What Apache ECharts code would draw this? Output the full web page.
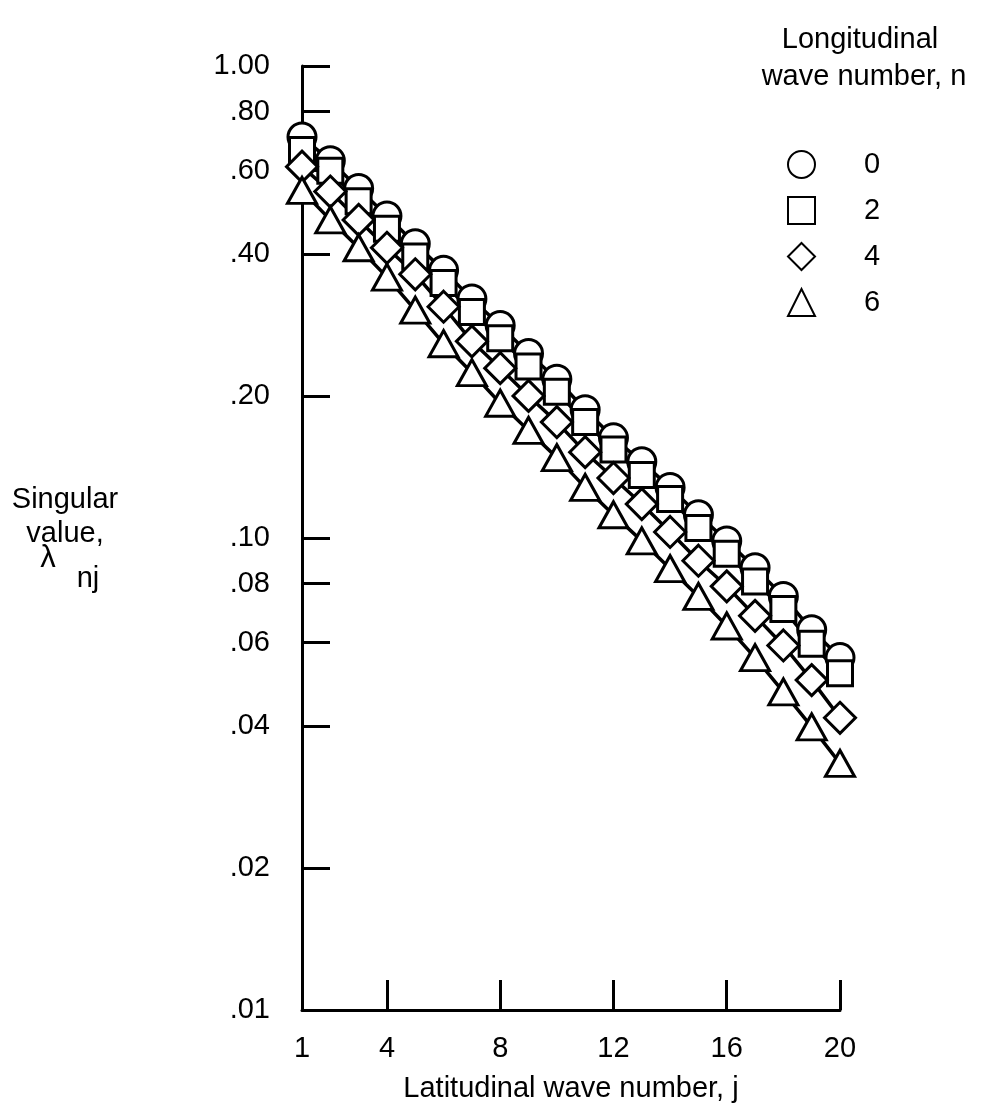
<!DOCTYPE html>
<html>
<head>
<meta charset="utf-8">
<script src="https://cdn.jsdelivr.net/npm/echarts@6/dist/echarts.min.js"></script>
<style>
html,body{margin:0;padding:0;background:#fff;}
#chart{width:1001px;height:1108px;}
</style>
</head>
<body>
<div id="chart"></div>
<script>
// ---- data ----
const jValues = [1,2,3,4,5,6,7,8,9,10,11,12,13,14,15,16,17,18,19,20];
const n0 = [0.707,0.630,0.550,0.481,0.420,0.369,0.321,0.282,0.246,0.217,0.187,0.163,0.145,0.128,0.112,0.0986,0.0865,0.0752,0.0639,0.0558];
const n2 = [0.664,0.600,0.517,0.452,0.395,0.347,0.301,0.265,0.231,0.204,0.176,0.154,0.136,0.121,0.105,0.0926,0.0809,0.0707,0.0597,0.0517];
const n4 = [0.612,0.542,0.472,0.412,0.362,0.309,0.261,0.229,0.200,0.176,0.152,0.134,0.118,0.103,0.0895,0.0790,0.0684,0.0592,0.0500,0.0416];
const n6 = [0.545,0.472,0.412,0.357,0.304,0.258,0.224,0.193,0.169,0.148,0.128,0.112,0.0986,0.0861,0.0752,0.0651,0.0558,0.0472,0.0398,0.0333];
const seriesNames = ['0','2','4','6'];
const xTickValues = [1,4,8,12,16,20];
const yTickValues = [0.01,0.02,0.04,0.06,0.08,0.1,0.2,0.4,0.6,0.8,1.0];
const yTickLabels = ['.01','.02','.04','.06','.08','.10','.20','.40','.60','.80','1.00'];

const FONT = 'Liberation Sans, Arial, Helvetica, sans-serif';
const FS = 29;
const chart = echarts.init(document.getElementById('chart'), null, {renderer:'canvas'});

function pairs(arr){ return jValues.map((j,i)=>[j,arr[i]]); }
const all = [n0,n2,n4,n6];
const symbols = ['circle','rect','diamond','triangle'];
const sizes = [28,25,[31,31],[29,26]];

const series = [];
all.forEach((arr,k)=>{
  series.push({
    type:'line', data:pairs(arr), showSymbol:false, symbol:'none', silent:true,
    lineStyle:{color:'#000',width:3.5}, z:1, animation:false
  });
});
all.forEach((arr,k)=>{
  series.push({
    name:seriesNames[k], type:'scatter', data:pairs(arr), symbol:symbols[k], symbolSize:sizes[k],
    itemStyle:{color:'#fff',borderColor:'#000',borderWidth:3,opacity:1}, z:2+k, animation:false
  });
});

function yLabel(v){
  for (let i=0;i<yTickValues.length;i++){
    if (Math.abs(Math.log10(v)-Math.log10(yTickValues[i]))<1e-6) return yTickLabels[i];
  }
  return '';
}

function txt(s,x,y,size){
  return {type:'text',style:{text:s,x:x,y:y,textAlign:'center',textVerticalAlign:'middle',font:size+'px '+FONT,fill:'#000'}};
}

chart.setOption({
  animation:false,
  backgroundColor:'#fff',
  grid:{left:302,right:161,top:66,bottom:86,containLabel:false},
  xAxis:{
    type:'value', min:1, max:20,
    name:'Latitudinal wave number, j', nameLocation:'middle', nameGap:64,
    nameTextStyle:{fontFamily:FONT,fontSize:FS,color:'#000'},
    axisLine:{show:true,lineStyle:{color:'#000',width:3}},
    axisTick:{show:true,inside:true,length:30,customValues:xTickValues,lineStyle:{color:'#000',width:3}},
    axisLabel:{show:true,customValues:xTickValues,margin:24,fontFamily:FONT,fontSize:FS,color:'#000'},
    splitLine:{show:false}
  },
  yAxis:{
    type:'log', logBase:10, min:0.01, max:1,
    axisLine:{show:true,lineStyle:{color:'#000',width:3}},
    axisTick:{show:true,inside:true,length:28,customValues:yTickValues,lineStyle:{color:'#000',width:3}},
    axisLabel:{show:true,customValues:yTickValues,margin:32,fontFamily:FONT,fontSize:FS,color:'#000',
      formatter:function(v){return yLabel(v);}},
    splitLine:{show:false}, minorTick:{show:false}
  },
  legend:{
    data:seriesNames, orient:'vertical', left:782, top:145, itemWidth:27, itemHeight:27, itemGap:17,
    textStyle:{fontFamily:FONT,fontSize:FS,color:'#000',padding:[0,0,0,44]},
    selectedMode:false
  },
  graphic:[
    txt('Longitudinal',860,40,FS),
    txt('wave number, n',864,77,FS),
    txt('Singular',65,500,FS),
    txt('value,',65,534,FS),
    txt('λ',48,558,31),
    txt('nj',88,579,FS)
  ],
  series:series
});
</script>
</body>
</html>
